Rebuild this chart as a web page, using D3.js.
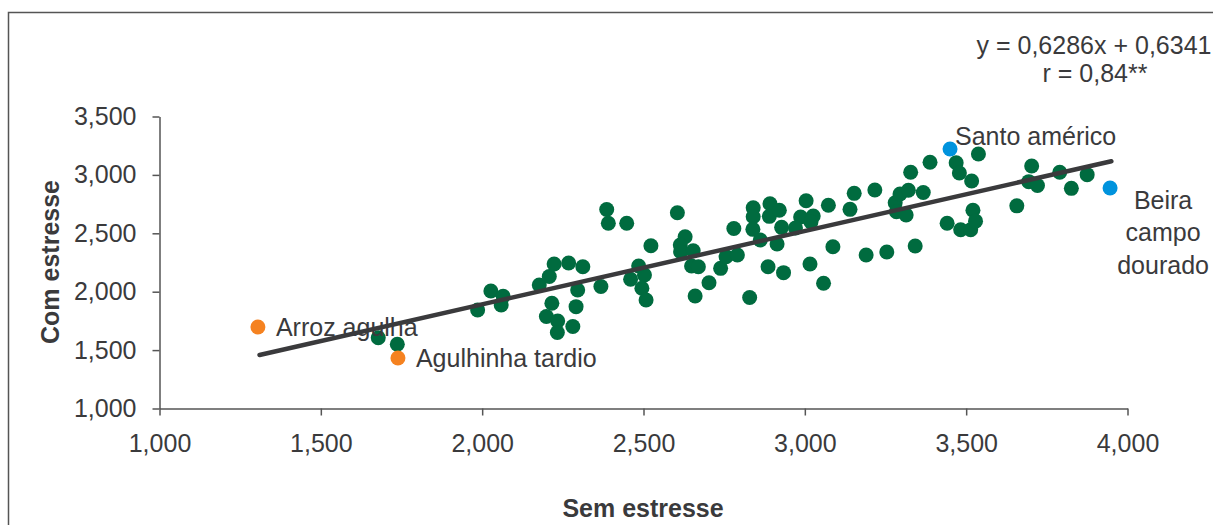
<!DOCTYPE html>
<html>
<head>
<meta charset="utf-8">
<script src="https://cdn.jsdelivr.net/npm/d3@7"></script>
<style>
  html, body { margin: 0; padding: 0; background: #fff; }
  svg { display: block; font-family: "Liberation Sans", Arial, Helvetica, sans-serif; }
</style>
</head>
<body>
<svg id="chart" width="1213" height="525"></svg>
<script>
// Grain yield per cultivar: without stress (x) vs with stress (y)
const semEstresse = [
  1678, 1737, 1986, 2027, 2065, 2059, 2177, 2208, 2223, 2268,
  2312, 2296, 2368, 2216, 2199, 2234, 2233, 2291, 2281, 2386,
  2391, 2448, 2523, 2485, 2503, 2460, 2495, 2508, 2605, 2629,
  2614, 2615, 2654, 2649, 2670, 2660, 2703, 2739, 2756, 2791,
  2780, 2829, 2840, 2840, 2839, 2862, 2892, 2890, 2921, 2928,
  2914, 2886, 2934, 3004, 2987, 3026, 3019, 2971, 3073, 3087,
  3016, 3058, 3140, 3153, 3217, 3190, 3254, 3280, 3295, 3321,
  3328, 3388, 3284, 3314, 3367, 3342, 3469, 3479, 3517, 3538,
  3441, 3483, 3514, 3521, 3529, 3657, 3703, 3694, 3721, 3790,
  3826, 3875
];
const comEstresse = [
  1606, 1550, 1843, 2006, 1961, 1886, 2057, 2130, 2237, 2246,
  2214, 2015, 2045, 1901, 1788, 1749, 1651, 1872, 1702, 2704,
  2586, 2586, 2394, 2220, 2143, 2106, 2029, 1929, 2676, 2471,
  2400, 2342, 2351, 2220, 2214, 1963, 2077, 2200, 2300, 2314,
  2541, 1950, 2719, 2642, 2534, 2443, 2753, 2645, 2697, 2551,
  2408, 2214, 2163, 2779, 2640, 2648, 2597, 2545, 2740, 2385,
  2237, 2072, 2705, 2842, 2871, 2314, 2340, 2762, 2836, 2868,
  3023, 3108, 2685, 2657, 2849, 2391, 3104, 3016, 2948, 3179,
  2586, 2531, 2531, 2697, 2604, 2735, 3076, 2942, 2909, 3023,
  2885, 3002
];

// Named cultivars highlighted on the plot
const destaqueNomes = ["Arroz agulha", "Agulhinha tardio", "Santo américo", "Beira campo dourado"];
const destaqueSem   = [1305, 1739, 3450, 3946];
const destaqueCom   = [1698, 1432, 3222, 2888];
const destaqueGrupo = ["baixo", "baixo", "alto", "alto"];

const xTicks = [1000, 1500, 2000, 2500, 3000, 3500, 4000];
const yTicks = [1000, 1500, 2000, 2500, 3000, 3500];

// Fitted regression (coefficients in t/ha, i.e. thousands)
const regA = 0.6286, regB = 0.6341;
const regRange = [1310, 3950];
const equacao = ["y = 0,6286x + 0,6341", "r = 0,84**"];

const svg = d3.select("#chart");
const ink = "#3a3a3c";
const axisColor = "#555";
const fs = 25;

// Outer frame
svg.append("rect")
  .attr("x", 8.5).attr("y", 12.5)
  .attr("width", 1300).attr("height", 600)
  .attr("fill", "none").attr("stroke", axisColor).attr("stroke-width", 1.5);

const x = d3.scaleLinear().domain([1000, 4000]).range([159.5, 1127.5]);
const y = d3.scaleLinear().domain([1000, 3500]).range([408.5, 116.5]);
const fmt = d3.format(",");

// X axis
const gx = svg.append("g").attr("transform", `translate(0,${y(1000)})`)
  .call(d3.axisBottom(x).tickValues(xTicks).tickFormat(fmt).tickSize(7).tickSizeOuter(0).tickPadding(19));
// Y axis
const gy = svg.append("g").attr("transform", `translate(${x(1000)},0)`)
  .call(d3.axisLeft(y).tickValues(yTicks).tickFormat(fmt).tickSize(7).tickSizeOuter(0).tickPadding(16));

[gx, gy].forEach(g => {
  g.select(".domain").attr("stroke", axisColor).attr("stroke-width", 1.5);
  g.selectAll(".tick line").attr("stroke", axisColor).attr("stroke-width", 1.5);
  g.selectAll(".tick text").attr("fill", ink).attr("font-size", fs)
    .attr("font-family", "'Liberation Sans', Arial, sans-serif");
});

// Axis titles
svg.append("text")
  .attr("x", 643).attr("y", 517)
  .attr("text-anchor", "middle").attr("font-size", fs).attr("font-weight", "bold")
  .attr("fill", ink).text("Sem estresse");
svg.append("text")
  .attr("transform", "translate(59,262) rotate(-90)")
  .attr("text-anchor", "middle").attr("font-size", fs).attr("font-weight", "bold")
  .attr("fill", ink).text("Com estresse");

// Scatter of cultivars
const pontos = semEstresse.map((v, i) => ({ sem: v, com: comEstresse[i] }));
svg.append("g").selectAll("circle").data(pontos).join("circle")
  .attr("cx", d => x(d.sem)).attr("cy", d => y(d.com)).attr("r", 7.5)
  .attr("fill", "#006b3f");

// Regression line
svg.append("line")
  .attr("x1", x(regRange[0])).attr("y1", y((regA * regRange[0] / 1000 + regB) * 1000))
  .attr("x2", x(regRange[1])).attr("y2", y((regA * regRange[1] / 1000 + regB) * 1000))
  .attr("stroke", ink).attr("stroke-width", 4.5).attr("stroke-linecap", "round");

// Highlighted cultivars
const destaques = destaqueNomes.map((n, i) => ({ nome: n, sem: destaqueSem[i], com: destaqueCom[i], grupo: destaqueGrupo[i] }));
svg.append("g").selectAll("circle").data(destaques).join("circle")
  .attr("cx", d => x(d.sem)).attr("cy", d => y(d.com)).attr("r", 7.5)
  .attr("fill", d => d.grupo === "baixo" ? "#f58220" : "#0093dd");

const lbl = svg.append("g").attr("font-size", fs).attr("fill", ink);
// Labels to the right of the low-yield cultivars
lbl.append("text").attr("x", x(destaques[0].sem) + 18).attr("y", y(destaques[0].com) + 9).text(destaques[0].nome);
lbl.append("text").attr("x", x(destaques[1].sem) + 18).attr("y", y(destaques[1].com) + 9).text(destaques[1].nome);
// Label above Santo américo
lbl.append("text").attr("x", x(destaques[2].sem) + 5).attr("y", y(destaques[2].com) - 4).text(destaques[2].nome);
// Stacked label for Beira campo dourado
const beira = lbl.append("text").attr("text-anchor", "middle");
["Beira", "campo", "dourado"].forEach((w, i) => {
  beira.append("tspan").attr("x", x(destaques[3].sem) + 53).attr("y", y(destaques[3].com) + 21 + i * 32.5).text(w);
});

// Regression equation
const eq = svg.append("text").attr("text-anchor", "middle").attr("font-size", fs).attr("fill", ink);
eq.append("tspan").attr("x", 1094).attr("y", 54).text(equacao[0]);
eq.append("tspan").attr("x", 1095).attr("y", 82).text(equacao[1]);
</script>
</body>
</html>
